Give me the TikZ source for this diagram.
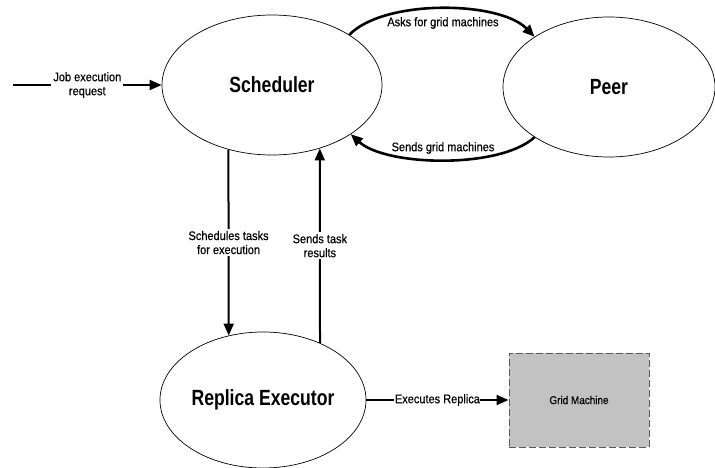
\documentclass[tikz,border=0pt]{standalone}
\usepackage{fontspec}
\setmainfont{Liberation Sans}
\newfontfamily\narrowsans{Liberation Sans}[FakeStretch=0.8]
\newfontfamily\labelsans{Liberation Sans}[FakeStretch=0.88, FakeBold=0.4]
\usetikzlibrary{shapes.geometric,arrows.meta}

\begin{document}
\begin{tikzpicture}[x=1pt,y=1pt,
  proc/.style={ellipse, draw, line width=0.7pt, inner sep=0pt,
    font=\narrowsans\bfseries\fontsize{22}{26}\selectfont},
  flow/.style={line width=2pt, -{Triangle[length=12pt,width=10pt]}},
  arcflow/.style={line width=2.6pt, -{Triangle[length=12pt,width=10pt]}},
  lbl/.style={font=\labelsans\fontsize{12.5}{14}\selectfont, align=center},
  machine/.style={rectangle, fill=black!24, draw=black!65, line width=1pt,
    dash pattern=on 7pt off 3pt, minimum width=140pt, minimum height=94pt,
    font=\labelsans\fontsize{11.3}{13}\selectfont}
]
\useasboundingbox (0,0) rectangle (715,467);

% processes
\node[proc, minimum width=220pt, minimum height=140pt] (sch) at (272,382) {Scheduler};
\node[proc, minimum width=212pt, minimum height=140pt] (peer) at (609,380) {Peer};
\node[proc, minimum width=206pt, minimum height=136pt] (rep) at (263,67) {Replica Executor};
\node[machine] (grid) at (579,67) {Grid Machine};

% incoming job
\coordinate (jobin) at (13,382);
\draw[flow] (jobin) -- node[lbl, fill=white, inner sep=2pt] {Job execution\\request} (sch.west);

% scheduler <-> peer
\draw[arcflow] (sch.33) .. controls +(35,36) and +(-35,36) .. (peer.146);
\node[lbl] (asklbl) at (443,444) {Asks for grid machines};
\draw[arcflow] (peer.214) .. controls +(-35,-32) and +(35,-32) .. (sch.328);
\node[lbl] (sendlbl) at (443,319) {Sends grid machines};

% scheduler <-> replica executor
\draw[flow] (sch.236) -- node[lbl, fill=white, inner sep=2pt] {Schedules tasks\\for execution} (rep.118);
\draw[flow] (rep.45) -- node[lbl, fill=white, inner sep=2pt] {Sends task\\results} (sch.307);

% replica executor -> grid machine
\draw[flow] (rep.east) -- node[lbl, fill=white, inner sep=0.5pt] {Executes Replica} (grid.west);
\end{tikzpicture}
\end{document}
